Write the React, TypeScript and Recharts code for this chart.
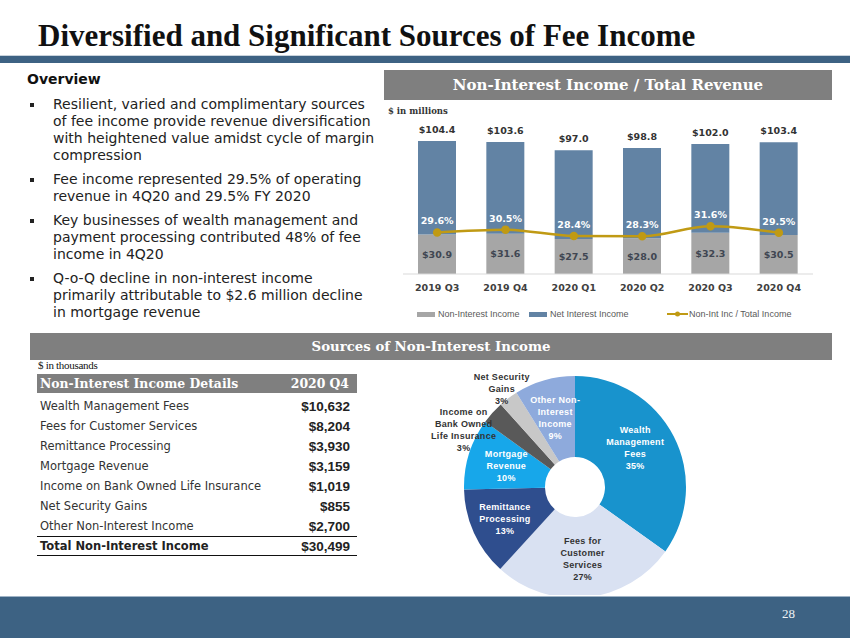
import {
  Bar,
  Cell,
  ComposedChart,
  LabelList,
  Legend,
  Line,
  Pie,
  PieChart,
  XAxis,
  YAxis,
} from "recharts";

// quarterly revenue ($ in millions)
const quarters = ["2019 Q3", "2019 Q4", "2020 Q1", "2020 Q2", "2020 Q3", "2020 Q4"];
const nonInterestIncome = [30.9, 31.6, 27.5, 28.0, 32.3, 30.5];
const totalRevenue = [104.4, 103.6, 97.0, 98.8, 102.0, 103.4];
const feeShare = [29.6, 30.5, 28.4, 28.3, 31.6, 29.5];
const seriesNames = ["Non-Interest Income", "Net Interest Income", "Non-Int Inc / Total Income"];

// 2020 Q4 non-interest income ($ in thousands)
const feeCategories = [
  "Wealth Management Fees",
  "Fees for Customer Services",
  "Remittance Processing",
  "Mortgage Revenue",
  "Income on Bank Owned Life Insurance",
  "Net Security Gains",
  "Other Non-Interest Income",
];
const feeValues = [10632, 8204, 3930, 3159, 1019, 855, 2700];
const feeTotal = 30499;
const pieLabels = [
  ["Wealth", "Management", "Fees"],
  ["Fees for", "Customer", "Services"],
  ["Remittance", "Processing"],
  ["Mortgage", "Revenue"],
  ["Income on", "Bank Owned", "Life Insurance"],
  ["Net Security", "Gains"],
  ["Other Non-", "Interest", "Income"],
];

const overview = [
  [
    "Resilient, varied and complimentary sources",
    "of fee income provide revenue diversification",
    "with heightened value amidst cycle of margin",
    "compression",
  ],
  ["Fee income represented 29.5% of operating", "revenue in 4Q20 and 29.5% FY 2020"],
  [
    "Key businesses of wealth management and",
    "payment processing contributed 48% of fee",
    "income in 4Q20",
  ],
  [
    "Q-o-Q decline in non-interest income",
    "primarily attributable to $2.6 million decline",
    "in mortgage revenue",
  ],
];

const pieColors = ["#1893cd", "#d9e1f2", "#2f4e8e", "#17a7ea", "#595959", "#c8c8c8", "#8eaadc"];

const revenueData = quarters.map((q, i) => ({
  quarter: q,
  nonInterest: nonInterestIncome[i],
  netInterest: +(totalRevenue[i] - nonInterestIncome[i]).toFixed(1),
  total: totalRevenue[i],
  ratio: feeShare[i],
}));

const feeData = feeCategories.map((name, i) => ({ name, value: feeValues[i] }));

const SANS = "'DejaVu Sans', Verdana, sans-serif";
const SERIF = "'DejaVu Serif', Georgia, serif";
const ARIAL = "'Liberation Sans', Arial, sans-serif";

const legendX = [41, 153, 291];

const RevenueLegend = ({ payload }: any) => {
  const items = [...(payload || [])].sort(
    (a: any, b: any) => seriesNames.indexOf(a.value) - seriesNames.indexOf(b.value)
  );
  return (
    <div style={{ position: "relative", height: 31, fontFamily: ARIAL, fontSize: 9, color: "#595959" }}>
      {items.map((item: any, i: number) => (
        <div key={item.value} style={{ position: "absolute", left: legendX[i], top: 14, height: 12, display: "flex", alignItems: "center", whiteSpace: "nowrap" }}>
          {item.type === "line" ? (
            <svg width={21} height={8} style={{ marginRight: 1 }}>
              <line x1={0} y1={4} x2={21} y2={4} stroke={item.color} strokeWidth={2} />
              <circle cx={10.5} cy={4} r={2.5} fill={item.color} />
            </svg>
          ) : (
            <span style={{ display: "inline-block", width: 18, height: 5, background: item.color, marginRight: 3 }} />
          )}
          <span>{item.value}</span>
        </div>
      ))}
    </div>
  );
};

const RAD = Math.PI / 180;

const renderFeeLabel = (props: any) => {
  const { cx, cy, midAngle, percent, index } = props;
  const outside = index === 4 || index === 5;
  const r = index === 4 ? 125 : index === 5 ? 122 : index === 2 ? 77 : 72;
  // nudge a couple of labels to where the slide puts them
  const shift = index === 4 ? 15 : index === 0 ? 6 : 0;
  const a = (midAngle + shift) * RAD;
  const x = cx + r * Math.cos(-a);
  const y = cy + r * Math.sin(-a);
  const lines = [...pieLabels[index], `${Math.round(percent * 100)}%`];
  const dark = outside || index === 1;
  const start = y - ((lines.length - 1) * 12) / 2;
  return (
    <text
      x={x}
      y={start}
      textAnchor="middle"
      dominantBaseline="central"
      fill={dark ? "#333333" : "#ffffff"}
      fontFamily={ARIAL}
      fontSize={9}
      fontWeight={700}
      letterSpacing={0.3}
    >
      {lines.map((l, i) => (
        <tspan key={i} x={x} y={start + i * 12}>
          {l}
        </tspan>
      ))}
    </text>
  );
};

const money = (v: number) => `$${v.toLocaleString("en-US")}`;

export default function App() {
  return (
    <div style={{ position: "absolute", left: 0, top: 0, width: 850, height: 638, overflow: "hidden", background: "#fff" }}>
      {/* title */}
      <div style={{ position: "absolute", left: 38, top: 19, fontFamily: "'Liberation Serif', 'Times New Roman', serif", fontWeight: 700, fontSize: 31, color: "#111", whiteSpace: "nowrap", lineHeight: "34px" }}>
        Diversified and Significant Sources of Fee Income
      </div>
      <div style={{ position: "absolute", left: 0, top: 55, width: 850, height: 1, background: "#c9d3dc" }} />
      <div style={{ position: "absolute", left: 0, top: 56, width: 850, height: 7, background: "#3d6283" }} />

      {/* overview */}
      <div style={{ position: "absolute", left: 27, top: 71, fontFamily: SANS, fontSize: 14, lineHeight: "17px", color: "#222", whiteSpace: "nowrap" }}>
        <div style={{ fontWeight: 700, color: "#111" }}>Overview</div>
        {overview.map((lines, i) => (
          <div key={i} style={{ position: "relative", marginTop: i === 0 ? 7.5 : 7, paddingLeft: 26 }}>
            <span style={{ position: "absolute", left: 3, top: 7, width: 4, height: 4, background: "#222" }} />
            {lines.map((l) => (
              <div key={l}>{l}</div>
            ))}
          </div>
        ))}
      </div>

      {/* top right chart */}
      <div style={{ position: "absolute", left: 384, top: 70, width: 448, height: 30, background: "#7f7f7f", color: "#fff", fontFamily: SERIF, fontWeight: 700, fontSize: 15, lineHeight: "30px", textAlign: "center" }}>
        Non-Interest Income / Total Revenue
      </div>
      <div style={{ position: "absolute", left: 388, top: 106, fontFamily: SERIF, fontSize: 8.5, fontWeight: 700, color: "#333" }}>$ in millions</div>
      <div style={{ position: "absolute", left: 376, top: 100 }}>
        <ComposedChart width={456} height={225} data={revenueData} margin={{ top: 21, right: 19, left: 27, bottom: 0 }}>
          <XAxis
            dataKey="quarter"
            height={20}
            axisLine={{ stroke: "#d9d9d9" }}
            tickLine={false}
            tick={{ fontSize: 9.5, fontWeight: 700, fill: "#404040", fontFamily: SANS }}
            dy={2}
          />
          <YAxis yAxisId="amt" hide domain={[0, 120]} />
          <YAxis yAxisId="pct" hide orientation="right" domain={[16, 66]} />
          <Legend verticalAlign="bottom" height={31} wrapperStyle={{ left: 0, width: 456, bottom: 0, height: 31 }} content={<RevenueLegend />} />
          <Bar yAxisId="amt" dataKey="nonInterest" name={seriesNames[0]} stackId="rev" fill="#a6a6a6" barSize={38} isAnimationActive={false}>
            <LabelList dataKey="nonInterest" position="center" formatter={(v: any) => `$${Number(v).toFixed(1)}`} fill="#404652" fontSize={9.5} fontWeight={700} fontFamily={SANS} />
          </Bar>
          <Bar yAxisId="amt" dataKey="netInterest" name={seriesNames[1]} stackId="rev" fill="#6283a4" barSize={38} isAnimationActive={false}>
            <LabelList dataKey="total" position="top" offset={8} formatter={(v: any) => `$${Number(v).toFixed(1)}`} fill="#333" fontSize={9.5} fontWeight={700} fontFamily={SANS} />
          </Bar>
          <Line
            yAxisId="pct"
            type="monotone"
            dataKey="ratio"
            name={seriesNames[2]}
            stroke="#c09a14"
            strokeWidth={2.5}
            dot={{ r: 3, fill: "#c09a14", stroke: "#c09a14" }}
            isAnimationActive={false}
          >
            <LabelList dataKey="ratio" position="top" offset={8} formatter={(v: any) => `${Number(v).toFixed(1)}%`} fill="#ffffff" fontSize={9.5} fontWeight={700} fontFamily={SANS} />
          </Line>
        </ComposedChart>
      </div>

      {/* sources header */}
      <div style={{ position: "absolute", left: 30, top: 333, width: 802, height: 27, background: "#7f7f7f", color: "#fff", fontFamily: SERIF, fontWeight: 700, fontSize: 13.3, lineHeight: "27px", textAlign: "center" }}>
        Sources of Non-Interest Income
      </div>

      {/* table */}
      <div style={{ position: "absolute", left: 38, top: 359, fontFamily: "'Liberation Serif', serif", fontSize: 11, color: "#111", letterSpacing: -0.3 }}>$ in thousands</div>
      <div style={{ position: "absolute", left: 37, top: 374, width: 320 }}>
        <div style={{ height: 19, background: "#7f7f7f", color: "#fff", fontFamily: SERIF, fontWeight: 700, fontSize: 12.4, lineHeight: "19px", display: "flex", justifyContent: "space-between", padding: "0 8px 0 3px" }}>
          <span>Non-Interest Income Details</span>
          <span>2020 Q4</span>
        </div>
        <div style={{ height: 3 }} />
        {feeCategories.map((name, i) => (
          <div key={name} style={{ height: 20, display: "flex", justifyContent: "space-between", alignItems: "center", padding: "0 7px 0 3px" }}>
            <span style={{ fontFamily: SANS, fontSize: 11.5, color: "#333" }}>{name}</span>
            <span style={{ fontFamily: ARIAL, fontSize: 13.5, fontWeight: 700, color: "#222" }}>{money(feeValues[i])}</span>
          </div>
        ))}
        <div style={{ height: 18, borderTop: "1px solid #111", borderBottom: "1.5px solid #111", display: "flex", justifyContent: "space-between", alignItems: "center", padding: "0 7px 0 3px" }}>
          <span style={{ fontFamily: SANS, fontSize: 11.5, fontWeight: 700, color: "#222" }}>Total Non-Interest Income</span>
          <span style={{ fontFamily: ARIAL, fontSize: 13.5, fontWeight: 700, color: "#222" }}>{money(feeTotal)}</span>
        </div>
      </div>

      {/* donut */}
      <div style={{ position: "absolute", left: 400, top: 355 }}>
        <PieChart width={300} height={240}>
          <Pie
            data={feeData}
            dataKey="value"
            nameKey="name"
            cx={170}
            cy={127}
            innerRadius={30}
            outerRadius={111}
            startAngle={90}
            endAngle={-270}
            stroke="none"
            label={renderFeeLabel}
            labelLine={false}
            isAnimationActive={false}
          >
            {feeData.map((d, i) => (
              <Cell key={d.name} fill={pieColors[i]} />
            ))}
          </Pie>
        </PieChart>
      </div>

      {/* footer */}
      <div style={{ position: "absolute", left: 0, top: 596, width: 850, height: 1, background: "#9fb3c6" }} />
      <div style={{ position: "absolute", left: 0, top: 597, width: 850, height: 41, background: "#3d6283" }} />
      <div style={{ position: "absolute", left: 782, top: 606, fontFamily: "'Liberation Serif', serif", fontSize: 13, color: "#eef2f6" }}>28</div>
    </div>
  );
}
